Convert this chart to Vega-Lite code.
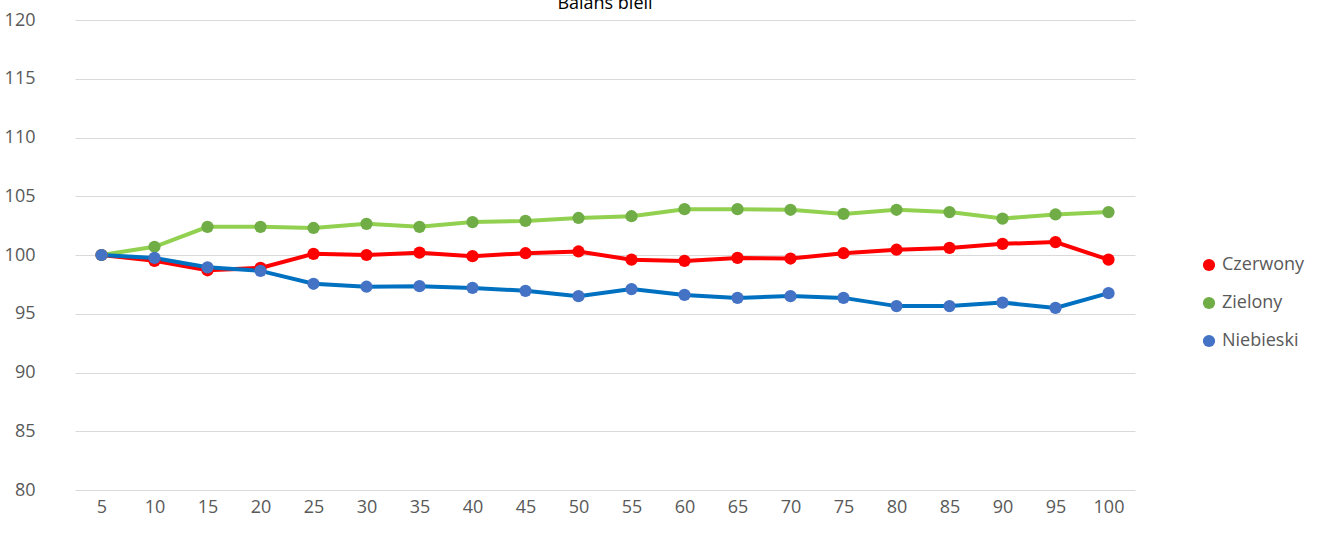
{
"$schema":"https://vega.github.io/schema/vega-lite/6.json",
"autosize":{"type":"none"},
"padding":{"left":75,"top":20,"right":204,"bottom":45},
"width":1060,"height":470,
"background":"white",
"title":{"text":"Balans bieli","font":"Open Sans","fontSize":18,"fontWeight":"normal","color":"#000","offset":-2},
"config":{"view":{"stroke":null},"font":"Open Sans"},
"resolve":{"scale":{"color":"independent"}},
"data":{"values":[
{"x":5,"s":"Czerwony","v":100},{"x":10,"s":"Czerwony","v":99.5},{"x":15,"s":"Czerwony","v":98.7},{"x":20,"s":"Czerwony","v":98.9},{"x":25,"s":"Czerwony","v":100.1},{"x":30,"s":"Czerwony","v":100},{"x":35,"s":"Czerwony","v":100.2},{"x":40,"s":"Czerwony","v":99.9},{"x":45,"s":"Czerwony","v":100.15},{"x":50,"s":"Czerwony","v":100.3},{"x":55,"s":"Czerwony","v":99.6},{"x":60,"s":"Czerwony","v":99.5},{"x":65,"s":"Czerwony","v":99.75},{"x":70,"s":"Czerwony","v":99.7},{"x":75,"s":"Czerwony","v":100.15},{"x":80,"s":"Czerwony","v":100.45},{"x":85,"s":"Czerwony","v":100.6},{"x":90,"s":"Czerwony","v":100.95},{"x":95,"s":"Czerwony","v":101.1},{"x":100,"s":"Czerwony","v":99.6},
{"x":5,"s":"Zielony","v":100},{"x":10,"s":"Zielony","v":100.7},{"x":15,"s":"Zielony","v":102.4},{"x":20,"s":"Zielony","v":102.4},{"x":25,"s":"Zielony","v":102.3},{"x":30,"s":"Zielony","v":102.65},{"x":35,"s":"Zielony","v":102.4},{"x":40,"s":"Zielony","v":102.8},{"x":45,"s":"Zielony","v":102.9},{"x":50,"s":"Zielony","v":103.15},{"x":55,"s":"Zielony","v":103.3},{"x":60,"s":"Zielony","v":103.9},{"x":65,"s":"Zielony","v":103.9},{"x":70,"s":"Zielony","v":103.85},{"x":75,"s":"Zielony","v":103.5},{"x":80,"s":"Zielony","v":103.85},{"x":85,"s":"Zielony","v":103.65},{"x":90,"s":"Zielony","v":103.1},{"x":95,"s":"Zielony","v":103.45},{"x":100,"s":"Zielony","v":103.65},
{"x":5,"s":"Niebieski","v":100},{"x":10,"s":"Niebieski","v":99.75},{"x":15,"s":"Niebieski","v":98.95},{"x":20,"s":"Niebieski","v":98.65},{"x":25,"s":"Niebieski","v":97.55},{"x":30,"s":"Niebieski","v":97.3},{"x":35,"s":"Niebieski","v":97.35},{"x":40,"s":"Niebieski","v":97.2},{"x":45,"s":"Niebieski","v":96.95},{"x":50,"s":"Niebieski","v":96.5},{"x":55,"s":"Niebieski","v":97.1},{"x":60,"s":"Niebieski","v":96.6},{"x":65,"s":"Niebieski","v":96.35},{"x":70,"s":"Niebieski","v":96.5},{"x":75,"s":"Niebieski","v":96.35},{"x":80,"s":"Niebieski","v":95.65},{"x":85,"s":"Niebieski","v":95.65},{"x":90,"s":"Niebieski","v":95.95},{"x":95,"s":"Niebieski","v":95.5},{"x":100,"s":"Niebieski","v":96.75}
]},
"encoding":{
"x":{"field":"x","type":"ordinal","scale":{"type":"point","padding":0.5},"axis":{"title":null,"labelAngle":0,"labelFontSize":18,"labelColor":"#595959","domain":false,"ticks":false,"grid":false,"labelPadding":8}},
"y":{"field":"v","type":"quantitative","scale":{"domain":[80,120]},"axis":{"title":null,"values":[80,85,90,95,100,105,110,115,120],"labelFontSize":18,"labelColor":"#595959","domain":false,"ticks":false,"gridColor":"#d9d9d9","labelPadding":40}}
},
"layer":[
{"mark":{"type":"line","strokeWidth":4},"encoding":{"color":{"field":"s","type":"nominal","scale":{"domain":["Czerwony","Zielony","Niebieski"],"range":["#FF0000","#92D050","#0070C0"]},"legend":null}}},
{"mark":{"type":"point","filled":true,"opacity":1,"size":150},"encoding":{"color":{"field":"s","type":"nominal","scale":{"domain":["Czerwony","Zielony","Niebieski"],"range":["#FF0000","#70AD47","#4472C4"]},"legend":{"title":null,"orient":"none","legendX":1125,"legendY":236,"labelFontSize":18,"labelColor":"#595959","symbolSize":150,"rowPadding":20,"labelOffset":4}}}}
]
}
